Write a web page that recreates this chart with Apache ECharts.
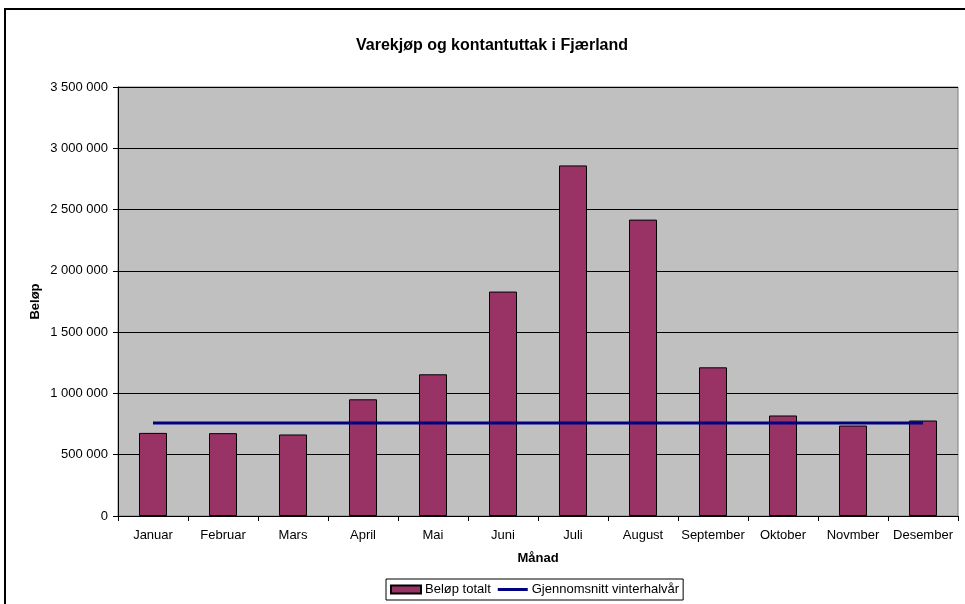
<!DOCTYPE html>
<html>
<head>
<meta charset="utf-8">
<script src="https://cdn.jsdelivr.net/npm/echarts@6/dist/echarts.min.js"></script>
<style>
html,body{margin:0;padding:0;background:#fff;}
#chart{width:965px;height:604px;}
</style>
</head>
<body>
<div id="chart"></div>
<script>
const months = ['Januar','Februar','Mars','April','Mai','Juni','Juli','August','September','Oktober','Novmber','Desember'];
const belopTotalt = [678000, 676000, 665000, 952000, 1156000, 1831000, 2860000, 2418000, 1213000, 820000, 738000, 779000];
const gjennomsnittVinter = [758000, 758000, 758000, 758000, 758000, 758000, 758000, 758000, 758000, 758000, 758000, 758000];
const yTicks = [0, 500000, 1000000, 1500000, 2000000, 2500000, 3000000, 3500000];

const FONT = '"Liberation Sans", Arial, sans-serif';
function fmt(v){ return String(v).replace(/\B(?=(\d{3})+(?!\d))/g, ' '); }

const chart = echarts.init(document.getElementById('chart'));
chart.setOption({
  animation: false,
  textStyle: { fontFamily: FONT, color: '#000' },
  title: {
    text: 'Varekjøp og kontantuttak i Fjærland',
    left: 487, top: 33, textAlign: 'center',
    textStyle: { fontFamily: FONT, fontSize: 16, fontWeight: 'bold', color: '#000' }
  },
  graphic: [{
    type: 'rect', silent: true, z: -1,
    shape: { x: 5, y: 9, width: 2000, height: 2000 },
    style: { fill: 'none', stroke: '#000', lineWidth: 2 }
  }],
  legend: {
    left: 386, top: 579,
    padding: [4, 4],
    itemGap: 7, itemWidth: 30, itemHeight: 8,
    borderColor: '#000', borderWidth: 1, borderRadius: 0,
    backgroundColor: '#fff',
    textStyle: { fontFamily: FONT, fontSize: 13, color: '#000', padding: [0,0,0,-1] },
    data: [
      { name: 'Beløp totalt', icon: 'rect' },
      { name: 'Gjennomsnitt vinterhalvår', icon: 'path://M0,0H30V3H0Z' }
    ]
  },
  grid: {
    left: 118, top: 87, right: 7, bottom: 88,
    show: true, backgroundColor: '#C0C0C0', borderColor: '#808080', borderWidth: 1
  },
  xAxis: {
    type: 'category',
    data: months,
    name: 'Månad', nameLocation: 'middle', nameGap: 36, nameMoveOverlap: false,
    nameTextStyle: { fontFamily: FONT, fontSize: 13, fontWeight: 'bold', color: '#000' },
    axisLine: { lineStyle: { color: '#000', width: 1 } },
    axisTick: { show: true, length: 5, inside: false, lineStyle: { color: '#000' } },
    axisLabel: { fontFamily: FONT, fontSize: 13, color: '#000', margin: 13, interval: 0 },
    splitLine: { show: false }
  },
  yAxis: {
    type: 'value',
    min: yTicks[0], max: yTicks[yTicks.length - 1], interval: 500000,
    name: 'Beløp', nameLocation: 'middle', nameGap: 76, nameMoveOverlap: false,
    nameTextStyle: { fontFamily: FONT, fontSize: 13, fontWeight: 'bold', color: '#000' },
    axisLine: { show: true, lineStyle: { color: '#000', width: 1 } },
    axisTick: { show: true, length: 5, lineStyle: { color: '#000' } },
    axisLabel: { fontFamily: FONT, fontSize: 13, color: '#000', margin: 10, formatter: fmt },
    splitLine: { show: true, lineStyle: { color: '#000', width: 1 } }
  },
  series: [
    {
      name: 'Beløp totalt', type: 'bar',
      data: belopTotalt,
      barWidth: 28,
      itemStyle: { color: '#993366', borderColor: '#000', borderWidth: 1 },
      z: 2
    },
    {
      name: 'Gjennomsnitt vinterhalvår', type: 'line',
      data: gjennomsnittVinter,
      symbol: 'none', showSymbol: false,
      lineStyle: { color: '#000080', width: 3 },
      itemStyle: { color: '#000080' },
      z: 3
    }
  ]
});
</script>
</body>
</html>
